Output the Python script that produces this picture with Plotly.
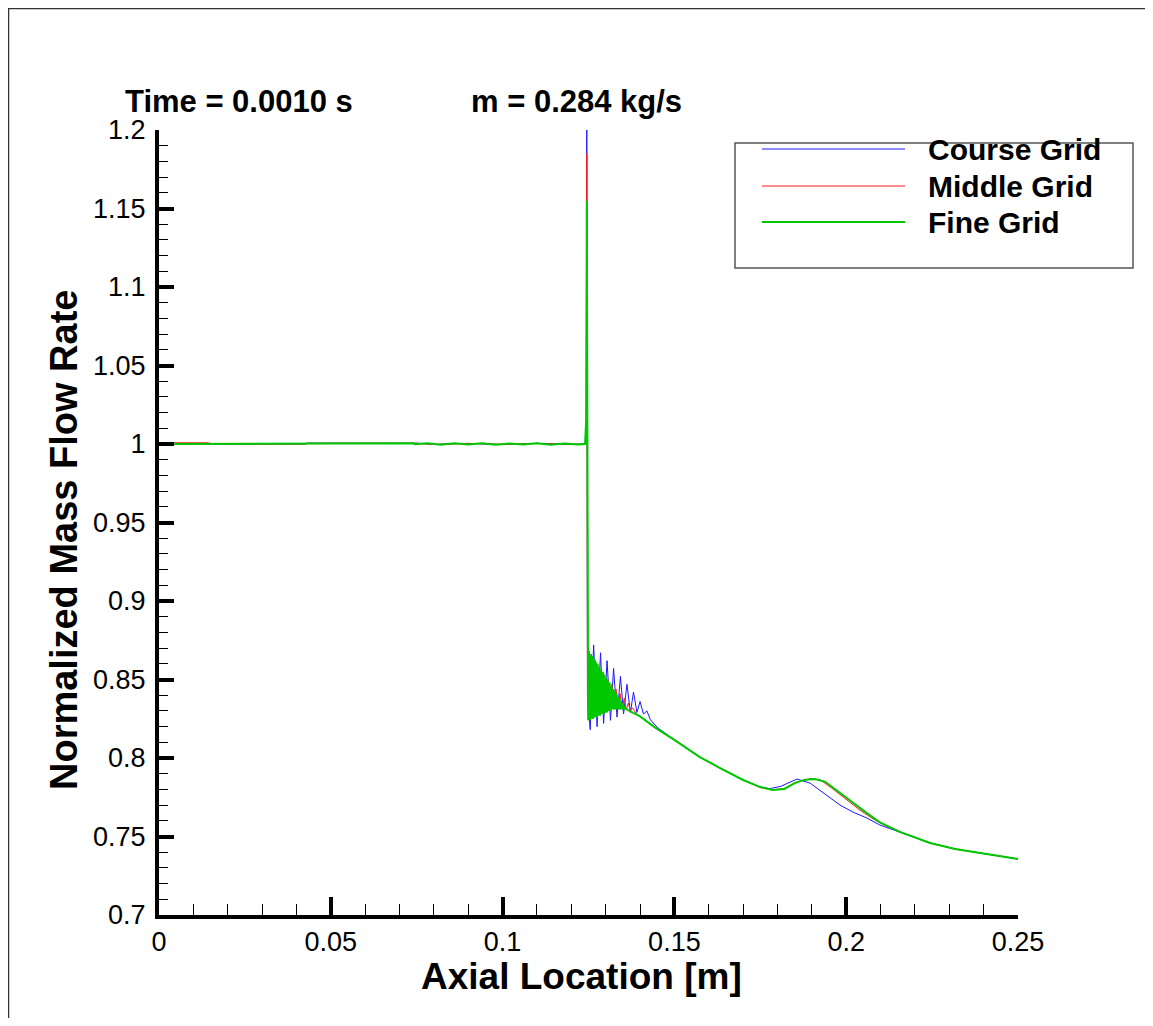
import plotly.graph_objects as go

# ---------------- data ----------------
course_x = [0.0, 0.02, 0.0425, 0.0430, 0.075, 0.080, 0.090, 0.100, 0.110, 0.120, 0.1243,
            0.1245, 0.1247,
            0.1255, 0.1265, 0.1275, 0.1285, 0.1294, 0.1304, 0.1314, 0.1323, 0.1333, 0.1343,
            0.1352, 0.1362, 0.1372, 0.1381, 0.1391, 0.1400, 0.1410, 0.1420, 0.1430,
            0.1450, 0.1500, 0.1574, 0.1633, 0.1700, 0.1750, 0.1778, 0.1810, 0.1857, 0.1895,
            0.1940, 0.1982, 0.2020, 0.2060, 0.2098, 0.2156, 0.2244, 0.2317, 0.2390, 0.2500]
course_y = [1.0, 1.0, 1.0, 1.0005, 1.0005, 0.9998, 1.0003, 0.9997, 1.0004, 0.9998, 1.0,
            1.2, 0.84,
            0.818, 0.872, 0.820, 0.867, 0.822, 0.862, 0.824, 0.857, 0.826, 0.852,
            0.828, 0.847, 0.829, 0.842, 0.829, 0.836, 0.828, 0.830, 0.8245,
            0.8195, 0.8115, 0.8006, 0.7936, 0.7860, 0.7815, 0.7805, 0.7820, 0.7866, 0.7840,
            0.7770, 0.7700, 0.7655, 0.7618, 0.7573, 0.7529, 0.7459, 0.7420, 0.7395, 0.7357]

middle_x = [0.0, 0.002, 0.014, 0.016, 0.0425, 0.0430, 0.075, 0.080, 0.090, 0.100, 0.110, 0.120,
            0.1243, 0.1245, 0.1247,
            0.1252, 0.1258, 0.1264, 0.1270, 0.1276, 0.1282, 0.1288, 0.1294, 0.1300, 0.1306,
            0.1312, 0.1318, 0.1324, 0.1330, 0.1336, 0.1342, 0.1348, 0.1354, 0.1360, 0.1366,
            0.1372, 0.1378, 0.1390,
            0.1443, 0.1500, 0.1574, 0.1633, 0.1700, 0.1750, 0.1785, 0.1820, 0.1855, 0.1895,
            0.1925, 0.1960, 0.2000, 0.2040, 0.2080, 0.2115, 0.2156, 0.2244, 0.2317, 0.2390,
            0.2500]
middle_y = [1.0, 1.0008, 1.0008, 1.0, 1.0, 1.0005, 1.0005, 0.9997, 1.0004, 0.9998, 1.0003, 0.9997,
            1.0, 1.185, 0.835,
            0.824, 0.866, 0.825, 0.862, 0.826, 0.858, 0.828, 0.854, 0.829, 0.850,
            0.830, 0.847, 0.831, 0.844, 0.831, 0.841, 0.831, 0.838, 0.831, 0.835,
            0.830, 0.832, 0.828,
            0.8195, 0.8115, 0.8006, 0.7936, 0.7860, 0.7812, 0.7798, 0.7805, 0.7845, 0.7868,
            0.7860, 0.7805, 0.7735, 0.7668, 0.7610, 0.7568, 0.7532, 0.7459, 0.7420, 0.7395,
            0.7357]

fine_x = [0.0, 0.0425, 0.0430, 0.0740, 0.0745, 0.078, 0.082, 0.086, 0.090, 0.094, 0.098,
          0.102, 0.106, 0.110, 0.114, 0.118, 0.122, 0.1240, 0.1243, 0.1244, 0.1245, 0.1247,
          0.12490, 0.12515, 0.12540, 0.12565, 0.12590, 0.12615, 0.12640, 0.12665, 0.12690,
          0.12715, 0.12740, 0.12765, 0.12790, 0.12815, 0.12840, 0.12865, 0.12890, 0.12915,
          0.12940, 0.12965, 0.12990, 0.13015, 0.13040, 0.13065, 0.13090, 0.13115, 0.13140,
          0.13165, 0.13190, 0.13215, 0.13240, 0.13265, 0.13290, 0.13315, 0.13340, 0.13365,
          0.13390, 0.13415, 0.13440, 0.13465, 0.13490, 0.13515, 0.13540, 0.13565, 0.1360,
          0.1400, 0.1443, 0.1500, 0.1574, 0.1633, 0.1700, 0.1750, 0.1787, 0.1820, 0.1850,
          0.1880, 0.1909, 0.1938, 0.1980, 0.2025, 0.2060, 0.2098, 0.2156, 0.2244, 0.2317,
          0.2390, 0.2500]
fine_y = [1.0, 1.0, 1.0004, 1.0004, 0.9998, 1.0004, 0.9996, 1.0004, 0.9997, 1.0005, 0.9996,
          1.0003, 0.9997, 1.0004, 0.9996, 1.0003, 0.9997, 1.0, 1.014, 1.0, 1.155, 0.830,
          0.824, 0.868, 0.824, 0.866, 0.825, 0.865, 0.825, 0.863, 0.826,
          0.861, 0.826, 0.860, 0.827, 0.858, 0.827, 0.856, 0.828, 0.855,
          0.828, 0.853, 0.829, 0.851, 0.829, 0.849, 0.830, 0.848, 0.830,
          0.846, 0.831, 0.844, 0.831, 0.843, 0.831, 0.841, 0.831, 0.839,
          0.831, 0.837, 0.831, 0.835, 0.831, 0.834, 0.831, 0.832, 0.831,
          0.8265, 0.8195, 0.8115, 0.8006, 0.7936, 0.7860, 0.7815, 0.7796, 0.7803, 0.7840,
          0.7862, 0.7866, 0.7850, 0.7780, 0.7710, 0.7649, 0.7590, 0.7529, 0.7459, 0.7420,
          0.7395, 0.7357]

series_names = ["Course Grid", "Middle Grid", "Fine Grid"]
x_tickvals = [0, 0.05, 0.1, 0.15, 0.2, 0.25]
x_ticktext = ["0", "0.05", "0.1", "0.15", "0.2", "0.25"]
y_tickvals = [0.7, 0.75, 0.8, 0.85, 0.9, 0.95, 1.0, 1.05, 1.1, 1.15, 1.2]
y_ticktext = ["0.7", "0.75", "0.8", "0.85", "0.9", "0.95", "1", "1.05", "1.1", "1.15", "1.2"]
title_time = "Time = 0.0010 s"
title_mass = "m = 0.284 kg/s"
x_title = "Axial Location [m]"
y_title = "Normalized Mass Flow Rate"

# ---------------- styling ----------------
OFF = 8                      # page body margin
W, H = 1153 - 2 * OFF, 1026 - 2 * OFF
L, R, T, B = 159, 1018, 130, 915  # plot area in page pixels
colors = ["#1a1aff", "#ff1a1a", "#00c800"]
widths = [1, 1, 2]
FONT = "Liberation Sans, Arial, sans-serif"


def px(xp):
    return (xp - L) / (R - L)


def py(yp):
    return (B - yp) / (B - T)


fig = go.Figure()
for xs, ys, name, c, w in zip([course_x, middle_x, fine_x], [course_y, middle_y, fine_y],
                              series_names, colors, widths):
    fig.add_trace(go.Scatter(x=xs, y=ys, mode="lines", name=name,
                             line=dict(color=c, width=w), showlegend=False))

axis_common = dict(showgrid=False, zeroline=False, showline=True, linecolor="black",
                   linewidth=4, ticks="inside", tickcolor="black", tickwidth=4,
                   tickfont=dict(family=FONT, size=27, color="black"), mirror=False)

fig.update_xaxes(range=[0, 0.25], tickmode="array", tickvals=x_tickvals, ticktext=x_ticktext,
                 ticklen=18,
                 minor=dict(dtick=0.01, ticks="inside", ticklen=11, tickwidth=1,
                            tickcolor="black"),
                 **axis_common)
fig.update_yaxes(range=[0.7, 1.2], tickmode="array", tickvals=y_tickvals, ticktext=y_ticktext,
                 ticklen=15, ticklabelstandoff=4,
                 minor=dict(dtick=0.01, ticks="inside", ticklen=9, tickwidth=1,
                            tickcolor="black"),
                 **axis_common)

annotations = [
    dict(text="<b>%s</b>" % title_time, x=px(123), y=py(101), xref="paper", yref="paper",
         xanchor="left", yanchor="middle", showarrow=False,
         font=dict(family=FONT, size=31, color="black")),
    dict(text="<b>%s</b>" % title_mass, x=px(469), y=py(101), xref="paper", yref="paper",
         xanchor="left", yanchor="middle", showarrow=False,
         font=dict(family=FONT, size=31, color="black")),
    dict(text="<b>%s</b>" % x_title, x=px(581), y=py(976), xref="paper", yref="paper",
         xanchor="center", yanchor="middle", showarrow=False,
         font=dict(family=FONT, size=37, color="black")),
    dict(text="<b>%s</b>" % y_title, x=px(64), y=py(540), xref="paper", yref="paper",
         xanchor="center", yanchor="middle", showarrow=False, textangle=-90,
         font=dict(family=FONT, size=38, color="black")),
]

shapes = [
    # outer frame (left and top edges visible)
    dict(type="line", xref="paper", yref="paper", x0=px(8.5), x1=px(8.5), y0=py(1026), y1=py(8),
         line=dict(color="#333333", width=1.5)),
    dict(type="line", xref="paper", yref="paper", x0=px(8), x1=px(1153), y0=py(8.5), y1=py(8.5),
         line=dict(color="#333333", width=1.5)),
    # legend box
    dict(type="rect", xref="paper", yref="paper", x0=px(735), x1=px(1133), y0=py(268), y1=py(143),
         line=dict(color="#555555", width=1.5), fillcolor="white"),
]
legend_rows = [149, 186, 222]
for name, c, w, yy in zip(series_names, colors, widths, legend_rows):
    shapes.append(dict(type="line", xref="paper", yref="paper", x0=px(762), x1=px(905),
                       y0=py(yy), y1=py(yy), line=dict(color=c, width=w)))
    annotations.append(dict(text="<b>%s</b>" % name, x=px(926), y=py(yy), xref="paper",
                            yref="paper", xanchor="left", yanchor="middle", showarrow=False,
                            font=dict(family=FONT, size=30, color="black")))

fig.update_layout(width=W, height=H,
                  margin=dict(l=L - OFF, r=W - (R - OFF), t=T - OFF, b=H - (B - OFF)),
                  plot_bgcolor="white", paper_bgcolor="white",
                  annotations=annotations, shapes=shapes, showlegend=False)

fig.write_html("out.html")
